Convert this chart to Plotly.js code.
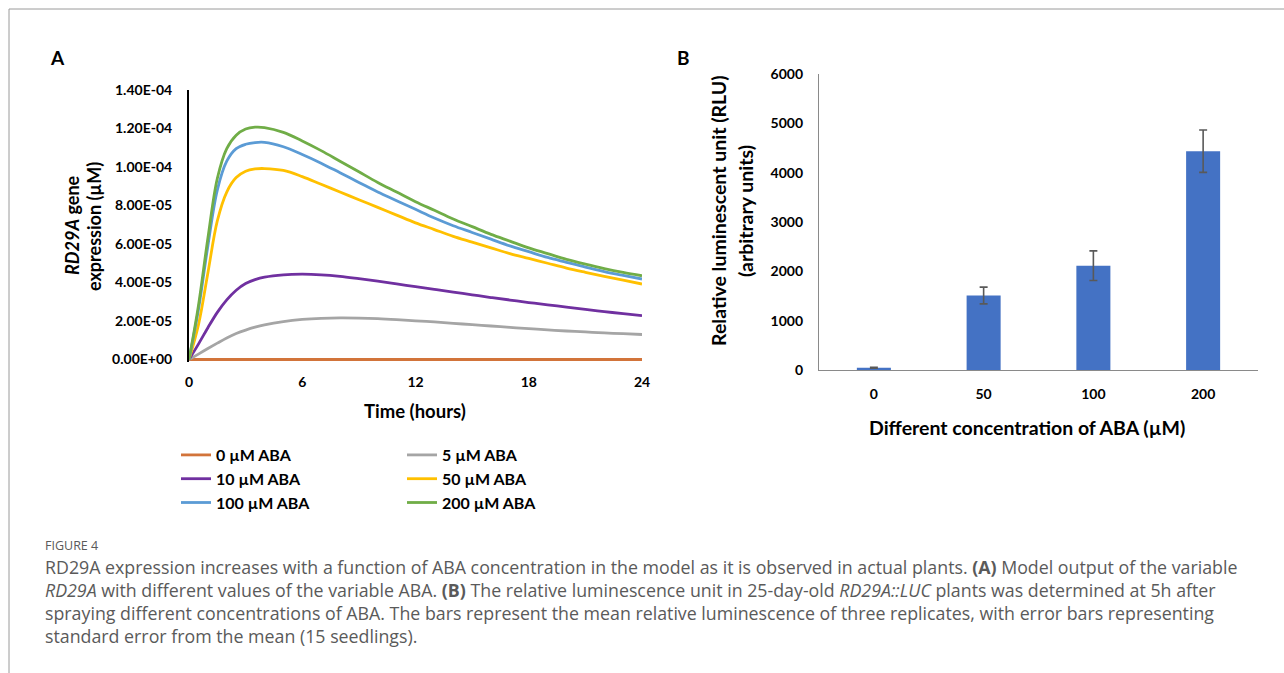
<!DOCTYPE html>
<html>
<head>
<meta charset="utf-8">
<script src="https://cdn.plot.ly/plotly-3.0.1.min.js"></script>
<style>html,body{margin:0;padding:0;background:#fff;}#chart{width:1284px;height:673px;}</style>
</head>
<body>
<div id="chart"></div>
<script>
// ---------- Panel A data (RD29A expression, units of 1e-5 µM) ----------
const hours = [0,0.5,1,1.5,2,2.5,3,3.5,4,5,6,7,8,9,10,11,12,13,14,15,16,17,18,19,20,21,22,23,24];
const aba0   = [0,0,0,0,0,0,0,0,0,0,0,0,0,0,0,0,0,0,0,0,0,0,0,0,0,0,0,0,0];
const aba5   = [0,0.28,0.57,0.85,1.12,1.35,1.53,1.68,1.80,1.97,2.08,2.14,2.16,2.15,2.12,2.07,2.01,1.95,1.88,1.81,1.74,1.67,1.60,1.54,1.48,1.43,1.38,1.34,1.30];
const aba10  = [0,0.80,1.65,2.45,3.10,3.60,3.95,4.15,4.28,4.40,4.43,4.40,4.32,4.20,4.07,3.93,3.78,3.64,3.50,3.36,3.22,3.09,2.96,2.84,2.72,2.60,2.49,2.38,2.28];
const aba50  = [0,1.80,4.50,7.20,8.70,9.45,9.78,9.90,9.92,9.82,9.50,9.10,8.70,8.30,7.90,7.50,7.10,6.75,6.40,6.10,5.80,5.50,5.25,5.00,4.75,4.53,4.32,4.12,3.92];
const aba100 = [0,2.60,5.90,8.80,10.30,10.95,11.18,11.27,11.28,11.05,10.65,10.20,9.70,9.20,8.70,8.25,7.80,7.35,6.95,6.60,6.25,5.90,5.60,5.30,5.05,4.80,4.57,4.37,4.18];
const aba200 = [0,2.80,6.30,9.40,10.95,11.65,11.97,12.07,12.05,11.80,11.35,10.85,10.30,9.75,9.20,8.70,8.20,7.75,7.30,6.90,6.50,6.15,5.80,5.50,5.20,4.95,4.72,4.52,4.35];
const seriesNames = ['0 µM ABA','5 µM ABA','10 µM ABA','50 µM ABA','100 µM ABA','200 µM ABA'];
const yTickValsA = [0,2e-5,4e-5,6e-5,8e-5,1e-4,1.2e-4,1.4e-4];
const yTickTextA = ['0.00E+00','2.00E-05','4.00E-05','6.00E-05','8.00E-05','1.00E-04','1.20E-04','1.40E-04'];
const xTickValsA = [0,6,12,18,24];

// ---------- Panel B data (relative luminescence) ----------
const concentrations = ['0','50','100','200'];
const rluMean = [45,1510,2115,4435];
const rluErr  = [10,170,300,430];
const yTickValsB = [0,1000,2000,3000,4000,5000,6000];

// ---------- helpers ----------
const W = 1284, H = 673;
const fx = p => p / W;
const fy = p => 1 - p / H;
const scale = arr => arr.map(v => v * 1e-5);

const colors = ['#D2743A','#A5A5A5','#7030A0','#FFC000','#5B9BD5','#70AD47'];
const data = [aba0, aba5, aba10, aba50, aba100, aba200];
const legendOf = ['legend','legend2','legend','legend2','legend','legend2'];

const traces = data.map((d, i) => ({
  type: 'scatter', mode: 'lines', x: hours, y: scale(d),
  name: seriesNames[i], legend: legendOf[i], cliponaxis: false,
  line: {color: colors[i], width: 2.8, shape: 'spline', smoothing: 1},
  xaxis: 'x', yaxis: 'y', hoverinfo: 'x+y+name'
}));

traces.push({
  type: 'bar', x: concentrations, y: rluMean, xaxis: 'x2', yaxis: 'y2',
  marker: {color: '#4472C4'}, width: 0.31, showlegend: false,
  error_y: {type: 'data', array: rluErr, visible: true, color: '#595959', thickness: 1.6, width: 4}
});

const boldFont = (size, color) => ({family: 'Lato, "Open Sans", sans-serif', size: size, color: color || '#000', weight: 'bold'});
const capFont = {family: '"Open Sans", Lato, sans-serif', size: 17.8, color: '#5a5a5a'};

const ann = (text, x, y, opts) => Object.assign({
  text: text, xref: 'paper', yref: 'paper', x: fx(x), y: fy(y),
  showarrow: false, xanchor: 'center', yanchor: 'middle'
}, opts || {});

const annotations = [
  ann('A', 57, 57, {font: boldFont(19)}),
  ann('B', 683, 57, {font: boldFont(19)}),
  ann('<i>RD29A</i> gene', 72, 225, {font: boldFont(18), textangle: -90}),
  ann('expression (µM)', 94, 226, {font: boldFont(18), textangle: -90}),
  ann('Time (hours)', 415, 411, {font: boldFont(18.5)}),
  ann('Relative luminescent unit (RLU)', 718, 211, {font: boldFont(19.5), textangle: -90}),
  ann('(arbitrary units)', 745, 211, {font: boldFont(19.5), textangle: -90}),
  ann('Different concentration of ABA (µM)', 1027, 427, {font: boldFont(19.5)}),
  ann('FIGURE 4', 43, 545, {xanchor: 'left', font: {family: '"Open Sans", sans-serif', size: 12.5, color: '#5a5a5a'}}),
  ann('RD29A expression increases with a function of ABA concentration in the model as it is observed in actual plants. <b>(A)</b> Model output of the variable', 43, 567, {xanchor: 'left', font: capFont}),
  ann('<i>RD29A</i> with different values of the variable ABA. <b>(B)</b> The relative luminescence unit in 25-day-old <i>RD29A::LUC</i> plants was determined at 5h after', 43, 590, {xanchor: 'left', font: capFont}),
  ann('spraying different concentrations of ABA. The bars represent the mean relative luminescence of three replicates, with error bars representing', 43, 613, {xanchor: 'left', font: capFont}),
  ann('standard error from the mean (15 seedlings).', 43, 636, {xanchor: 'left', font: capFont})
];

const shapes = [
  {type: 'line', xref: 'paper', yref: 'paper', x0: fx(9), x1: fx(1284), y0: fy(9), y1: fy(9), line: {color: '#9a9a9a', width: 1}},
  {type: 'line', xref: 'paper', yref: 'paper', x0: fx(9), x1: fx(9), y0: fy(9), y1: fy(673), line: {color: '#9a9a9a', width: 1}}
];

const tickFont = boldFont(14);
// a small margin below zero so the 0 µM line is not clipped by the plot area
const yPadA = 1.2e-6;
const pxPerUnitA = 269.5 / 1.4e-4;

const layout = {
  width: W, height: H,
  margin: {l: 0, r: 0, t: 0, b: 0},
  paper_bgcolor: '#fff', plot_bgcolor: 'rgba(0,0,0,0)',
  showlegend: true,
  xaxis: {
    domain: [fx(189), fx(642)], range: [0, 24], tickvals: xTickValsA, anchor: 'y',
    showgrid: false, zeroline: false, showline: false, ticks: '',
    tickfont: tickFont, ticklabelstandoff: 10, fixedrange: true
  },
  yaxis: {
    domain: [fy(359.5 + yPadA * pxPerUnitA), fy(90)], range: [-yPadA, 1.4e-4],
    tickvals: yTickValsA, ticktext: yTickTextA,
    showgrid: false, zeroline: false, showline: true, linecolor: '#000', linewidth: 2,
    ticks: '', tickfont: tickFont, ticklabelstandoff: 12, fixedrange: true
  },
  xaxis2: {
    domain: [fx(819), fx(1258)], range: [-0.5, 3.5], type: 'category',
    categoryarray: concentrations, anchor: 'y2',
    showgrid: false, zeroline: false, showline: true, linecolor: '#8a8a8a', linewidth: 1.3,
    ticks: '', tickfont: tickFont, ticklabelstandoff: 11, fixedrange: true
  },
  yaxis2: {
    domain: [fy(370), fy(74)], range: [0, 6000], tickvals: yTickValsB, anchor: 'x2',
    showgrid: false, zeroline: false, showline: true, linecolor: '#8a8a8a', linewidth: 1.3,
    ticks: '', tickfont: tickFont, ticklabelstandoff: 12, fixedrange: true
  },
  legend: {
    x: fx(176), y: fy(438), xanchor: 'left', yanchor: 'top',
    bgcolor: 'rgba(0,0,0,0)', borderwidth: 0, font: boldFont(16), tracegroupgap: 0
  },
  legend2: {
    x: fx(402), y: fy(438), xanchor: 'left', yanchor: 'top',
    bgcolor: 'rgba(0,0,0,0)', borderwidth: 0, font: boldFont(16), tracegroupgap: 0
  },
  annotations: annotations,
  shapes: shapes
};

Plotly.newPlot('chart', traces, layout, {displayModeBar: false, staticPlot: false, responsive: false});
</script>
</body>
</html>
